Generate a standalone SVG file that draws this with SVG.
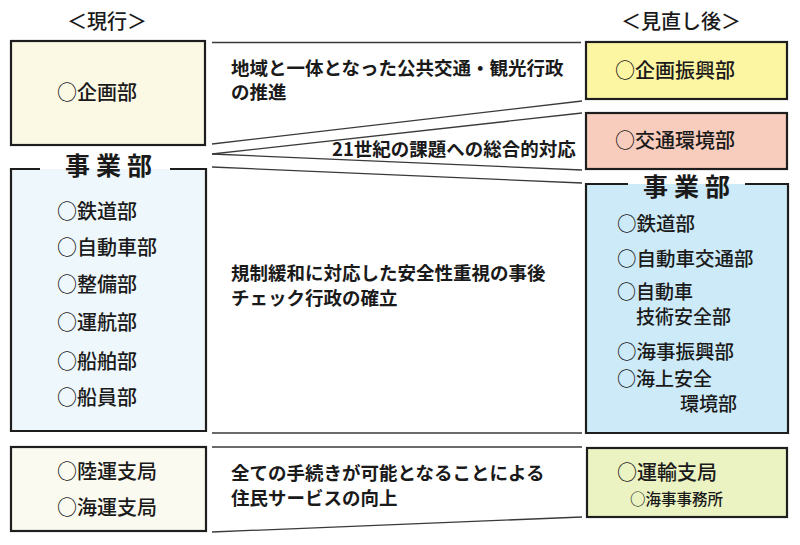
<svg xmlns="http://www.w3.org/2000/svg" width="800" height="545" viewBox="0 0 800 545">
<style>
text{font-family:"Noto Sans CJK JP","Noto Sans CJK SC",sans-serif;fill:#1a1a1a}
.box{stroke:#1e1e1e;stroke-width:2.2}
.it{font-size:20px;font-weight:500}
.its{font-size:19.5px;font-weight:500}
.mid{font-size:18.5px;font-weight:700}
.hd{font-size:25px;font-weight:700;letter-spacing:6px}
.ttl{font-size:20px;font-weight:500}
.cn{stroke:#3a3a3a;stroke-width:1.3;fill:none}
.bd{stroke:#1e1e1e;stroke-width:2.2;fill:none}
</style>
<rect width="800" height="545" fill="#ffffff"/>
<text class="ttl" x="67" y="29">＜現行＞</text>
<text class="ttl" x="621" y="29">＜見直し後＞</text>

<g id="connectors">
<line class="cn" x1="212" y1="42.5" x2="581" y2="42.5"/>
<line class="cn" x1="212" y1="144" x2="582" y2="101"/>
<line class="cn" x1="212" y1="154" x2="582" y2="113"/>
<line class="cn" x1="212" y1="154" x2="582" y2="170"/>
<line class="cn" x1="212" y1="167" x2="582" y2="183"/>
<line class="cn" x1="212" y1="433" x2="582" y2="433"/>
<line class="cn" x1="212" y1="447" x2="582" y2="447"/>
<line class="cn" x1="212" y1="532" x2="582" y2="517"/>
<text class="mid" x="231" y="75">地域と一体となった公共交通・観光行政</text>
<text class="mid" x="231" y="99">の推進</text>
<text class="mid" x="332" y="156">21世紀の課題への総合的対応</text>
<text class="mid" x="231" y="280">規制緩和に対応した安全性重視の事後</text>
<text class="mid" x="231" y="305">チェック行政の確立</text>
<text class="mid" x="231" y="480">全ての手続きが可能となることによる</text>
<text class="mid" x="231" y="505">住民サービスの向上</text>
</g>

<g id="old-kikaku">
<rect class="box" x="11" y="41" width="194" height="104" fill="#fbf8e4"/>
<text class="it" x="57" y="100">○企画部</text>
</g>

<g id="old-jigyo">
<rect x="11" y="169" width="195" height="262" fill="#eef7fb"/>
<path class="bd" d="M40 169 H11 V431 H206 V169 H170"/>
<text class="hd" x="65" y="175">事業部</text>
<text class="it" x="57" y="219">○鉄道部</text>
<text class="it" x="57" y="255">○自動車部</text>
<text class="it" x="57" y="292">○整備部</text>
<text class="it" x="57" y="330">○運航部</text>
<text class="it" x="57" y="369">○船舶部</text>
<text class="it" x="57" y="405">○船員部</text>
</g>

<g id="old-shikyoku">
<rect class="box" x="11" y="447" width="195" height="84" fill="#fafaf0"/>
<text class="it" x="57" y="479">○陸運支局</text>
<text class="it" x="57" y="515">○海運支局</text>
</g>

<g id="new-kikaku">
<rect class="box" x="586" y="42" width="201" height="57" fill="#fcf5a2"/>
<text class="it" x="615" y="78">○企画振興部</text>
</g>

<g id="new-kotsu">
<rect class="box" x="586" y="113" width="201" height="56" fill="#f8cdbd"/>
<text class="it" x="615" y="148">○交通環境部</text>
</g>

<g id="new-jigyo">
<rect x="586" y="184" width="202" height="249" fill="#cdeaf8"/>
<path class="bd" d="M628 184 H586 V433 H788 V184 H745"/>
<text class="hd" x="643" y="196">事業部</text>
<text class="its" x="617" y="231">○鉄道部</text>
<text class="its" x="617" y="266">○自動車交通部</text>
<text class="its" style="font-size:19px"><tspan x="617" y="299">○自動車</tspan><tspan x="636" y="324">技術安全部</tspan></text>
<text class="its" x="617" y="359">○海事振興部</text>
<text class="its" style="font-size:19px"><tspan x="617" y="386">○海上安全</tspan><tspan x="680" y="411">環境部</tspan></text>
</g>

<g id="new-shikyoku">
<rect class="box" x="587" y="448" width="200" height="69" fill="#ecf3c2"/>
<text class="it" x="617" y="480">○運輸支局</text>
<text style="font-size:15.5px;font-weight:500" x="630" y="505">○海事事務所</text>
</g>
</svg>
